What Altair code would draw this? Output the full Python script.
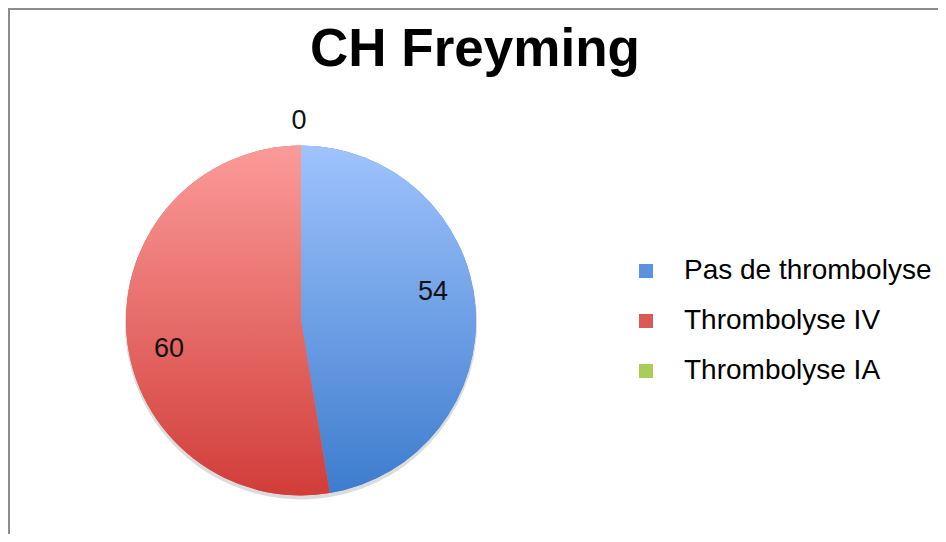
import altair as alt
import pandas as pd

categories = ["Pas de thrombolyse", "Thrombolyse IV", "Thrombolyse IA"]
values = [54, 60, 0]
legend_colors = ["#5a92dd", "#dc5a56", "#a8cd58"]
grad_top = ["#9fc3fd", "#fb9b99", "#c6e07e"]
grad_bottom = ["#3d7ccd", "#d13d39", "#8fbb3c"]

df = pd.DataFrame({"cat": categories, "value": values, "idx": list(range(len(categories)))})


def grad(top, bottom):
    return {"gradient": "linear", "x1": 0, "y1": 0, "x2": 0, "y2": 1,
            "stops": [{"offset": 0, "color": top}, {"offset": 1, "color": bottom}]}


W, H = 930, 526
CX, CY, R = 293, 312.5, 175
FONT = "Liberation Sans"

base = alt.Chart(df)
theta = alt.Theta("value:Q", stack=True)
order = alt.Order("idx:Q", sort="ascending")
pos = dict(x=alt.value(CX), y=alt.value(CY))

shadow = base.mark_arc(radius=R + 1, color="#8a8a8a", opacity=0.3, strokeWidth=0).encode(
    theta=theta, order=order, x=alt.value(CX), y=alt.value(CY + 3)
)

legend_layer = base.mark_arc(radius=R, strokeWidth=0).encode(
    theta=theta,
    order=order,
    color=alt.Color(
        "cat:N",
        scale=alt.Scale(domain=categories, range=legend_colors),
        legend=alt.Legend(
            title=None, orient="none", legendX=624, legendY=249,
            symbolType="square", symbolSize=196, symbolStrokeWidth=0,
            labelFont=FONT, labelFontSize=28, labelColor="black",
            labelOffset=24, rowPadding=22, padding=0, labelLimit=400,
        ),
    ),
    **pos,
)

fill = (
    alt.when(alt.datum.cat == categories[0]).then(alt.value(grad(grad_top[0], grad_bottom[0])))
    .when(alt.datum.cat == categories[1]).then(alt.value(grad(grad_top[1], grad_bottom[1])))
    .otherwise(alt.value(grad(grad_top[2], grad_bottom[2])))
)

gradient_layer = base.mark_arc(radius=R, strokeWidth=0).encode(
    theta=theta, order=order, fill=fill, **pos
)

labels_main = base.transform_filter("datum.value > 0").mark_text(
    radius=135, thetaOffset=-0.13, font=FONT, fontSize=27, color="#111111"
).encode(theta=theta, order=order, text="value:Q", **pos)

labels_zero = base.transform_filter("datum.value == 0").mark_text(
    radius=200, font=FONT, fontSize=27, color="#111111"
).encode(theta=theta, order=order, text="value:Q", x=alt.value(CX - 2), y=alt.value(CY))

frame_src = alt.Data(values=[{"k": 0}])
frame_left = alt.Chart(frame_src).mark_rule(color="#8c8c8c", strokeWidth=2).encode(
    x=alt.value(1), y=alt.value(0), y2=alt.value(H)
)
frame_top = alt.Chart(frame_src).mark_rule(color="#8c8c8c", strokeWidth=2).encode(
    x=alt.value(0), x2=alt.value(W), y=alt.value(1)
)

chart = alt.layer(
    frame_left, frame_top, shadow, legend_layer, gradient_layer, labels_main, labels_zero
).properties(
    width=W, height=H, padding=0,
    autosize=alt.AutoSizeParams(type="none"),
    title=alt.TitleParams(
        "CH Freyming", font=FONT, fontSize=53, fontWeight="bold", color="black",
        anchor="middle", offset=-112, baseline="alphabetic", dx=2,
    ),
).configure_view(stroke=None)

chart.save("out.html", embed_options={"renderer": "svg", "actions": False})
